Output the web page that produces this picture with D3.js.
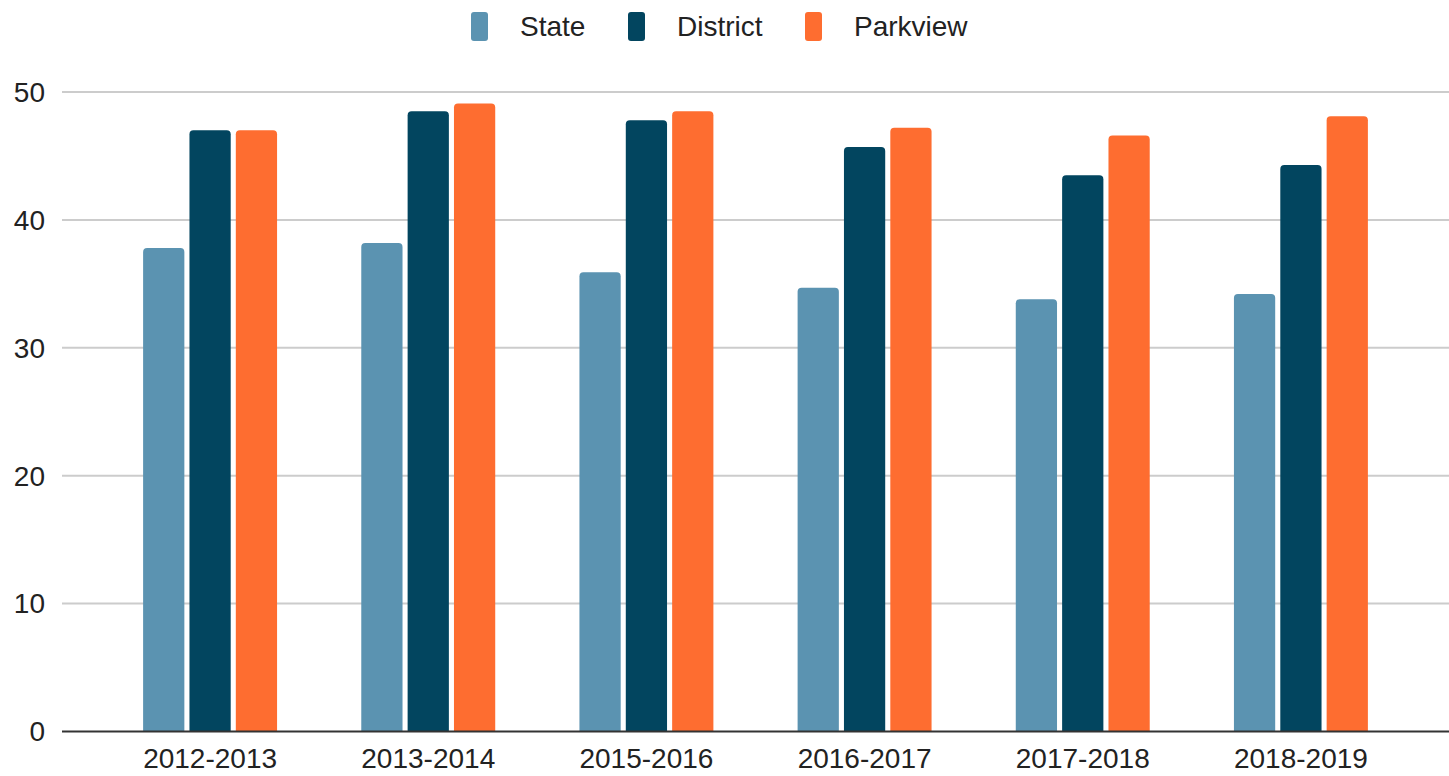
<!DOCTYPE html>
<html lang="en">
<head>
    <meta charset="UTF-8">
    <title>State / District / Parkview</title>
    <script src="https://d3js.org/d3.v7.min.js"></script>
    <style>
        body {
            margin: 0;
            padding: 0;
            background-color: #fff;
        }
        svg text {
            font-family: "Liberation Sans", Arial, sans-serif;
            fill: #222;
        }
    </style>
</head>
<body>
    <div id="chart"></div>

    <script>
        // Chart data
        const years = ["2012-2013", "2013-2014", "2015-2016", "2016-2017", "2017-2018", "2018-2019"];
        const seriesNames = ["State", "District", "Parkview"];
        const stateValues = [37.8, 38.2, 35.9, 34.7, 33.8, 34.2];
        const districtValues = [47.0, 48.5, 47.8, 45.7, 43.5, 44.3];
        const parkviewValues = [47.0, 49.1, 48.5, 47.2, 46.6, 48.1];
        const yTicks = [0, 10, 20, 30, 40, 50];
        const colors = ["#5b93b1", "#02455f", "#fe6d30"];

        const seriesValues = [stateValues, districtValues, parkviewValues];

        const width = 1449, height = 776;
        const plotLeft = 62, plotRight = 1449;

        const svg = d3.select("#chart").append("svg")
            .attr("width", width)
            .attr("height", height);

        const y = d3.scaleLinear().domain([0, 50]).range([731.5, 92]);

        const x = d3.scaleBand()
            .domain(years)
            .range([101, 1410])
            .paddingInner(0.386)
            .paddingOuter(0.193);

        const xSub = d3.scaleBand()
            .domain(seriesNames)
            .range([0, x.bandwidth()])
            .paddingInner(0.11)
            .paddingOuter(0);

        // gridlines + y labels
        const yAxis = svg.append("g");
        yAxis.selectAll("line.grid")
            .data(yTicks.filter(d => d > 0))
            .join("line")
            .attr("class", "grid")
            .attr("x1", plotLeft)
            .attr("x2", plotRight)
            .attr("y1", d => y(d))
            .attr("y2", d => y(d))
            .style("stroke", "#cccccc")
            .style("stroke-width", 2);

        yAxis.selectAll("text")
            .data(yTicks)
            .join("text")
            .attr("x", 45)
            .attr("y", d => y(d))
            .attr("dy", "0.35em")
            .attr("text-anchor", "end")
            .style("font-size", "28px")
            .text(d => d);

        // bars with rounded top corners
        const barPath = (x0, w, top, bottom, r) => {
            const rr = Math.min(r, (bottom - top) / 2, w / 2);
            return `M${x0},${bottom}V${top + rr}Q${x0},${top} ${x0 + rr},${top}` +
                `H${x0 + w - rr}Q${x0 + w},${top} ${x0 + w},${top + rr}V${bottom}Z`;
        };

        const groups = svg.append("g").selectAll("g")
            .data(years)
            .join("g")
            .attr("transform", d => `translate(${x(d)},0)`);

        groups.selectAll("path")
            .data((d, i) => seriesNames.map((s, j) => ({ series: s, value: seriesValues[j][i], color: colors[j] })))
            .join("path")
            .attr("d", d => barPath(xSub(d.series), xSub.bandwidth(), y(d.value), y(0), 4))
            .style("fill", d => d.color);

        // baseline
        svg.append("line")
            .attr("x1", plotLeft)
            .attr("x2", plotRight)
            .attr("y1", y(0))
            .attr("y2", y(0))
            .style("stroke", "#333")
            .style("stroke-width", 2);

        // x labels
        svg.append("g").selectAll("text")
            .data(years)
            .join("text")
            .attr("x", d => x(d) + x.bandwidth() / 2)
            .attr("y", 768)
            .attr("text-anchor", "middle")
            .style("font-size", "28px")
            .text(d => d);

        // legend
        const legendX = [471, 628, 805];
        const legend = svg.append("g").selectAll("g")
            .data(seriesNames)
            .join("g")
            .attr("transform", (d, i) => `translate(${legendX[i]},12)`);

        legend.append("rect")
            .attr("width", 17)
            .attr("height", 29)
            .attr("rx", 3)
            .style("fill", (d, i) => colors[i]);

        legend.append("text")
            .attr("x", 49)
            .attr("y", 14.5)
            .attr("dy", "0.35em")
            .style("font-size", "28px")
            .text(d => d);
    </script>
</body>
</html>
